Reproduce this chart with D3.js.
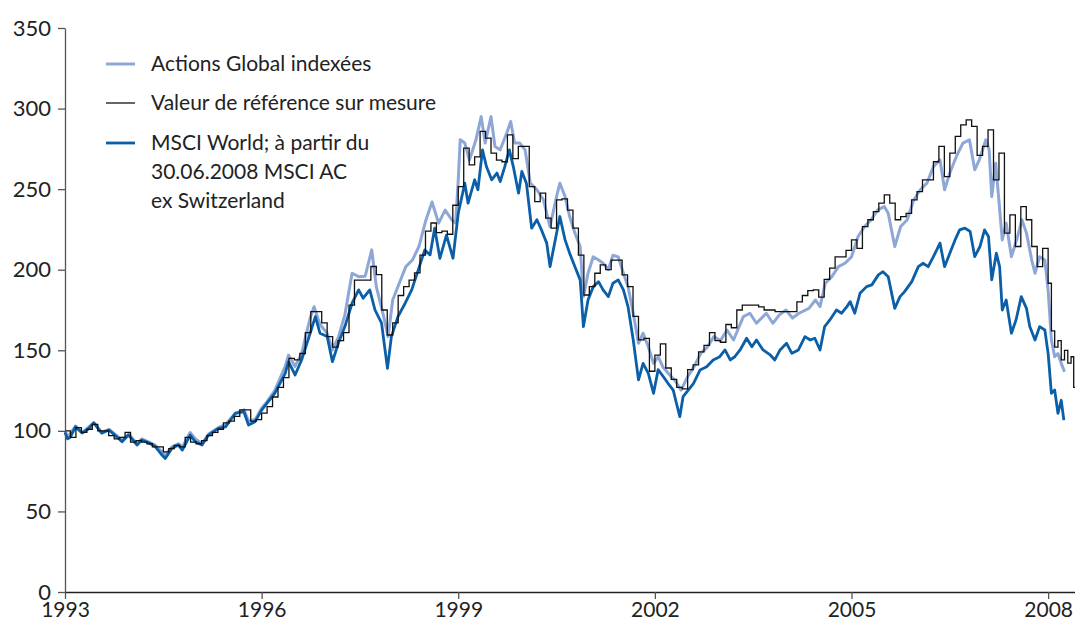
<!DOCTYPE html>
<html>
<head>
<meta charset="utf-8">
<script src="https://cdn.jsdelivr.net/npm/d3@7"></script>
<style>
  body { margin: 0; background: #fff; }
  text { font-family: Lato, "Open Sans", sans-serif; fill: #222; }
</style>
</head>
<body>
<div id="chart"></div>
<script>
// Series names (legend)
const seriesNames = [
    ["Actions Global indexées"],
    ["Valeur de référence sur mesure"],
    ["MSCI World; à partir du", "30.06.2008 MSCI AC", "ex Switzerland"]
];

// Axis ticks
const xTicks = [1993, 1996, 1999, 2002, 2005, 2008];
const yTicks = [0, 50, 100, 150, 200, 250, 300, 350];

// Actions Global indexées (light blue) - dates as year fractions
const fundDates = [1993.00, 1993.04, 1993.16, 1993.26, 1993.44, 1993.56, 1993.67, 1993.79, 1993.87, 1993.97,
    1994.10, 1994.17, 1994.28, 1994.38, 1994.48, 1994.53, 1994.63, 1994.73, 1994.79, 1994.91, 1994.99,
    1995.09, 1995.19, 1995.34, 1995.45, 1995.60, 1995.73, 1995.80, 1995.90,
    1996.00, 1996.08, 1996.20, 1996.36, 1996.41, 1996.51, 1996.61, 1996.74, 1996.80, 1996.89,
    1997.00, 1997.08, 1997.17, 1997.27, 1997.38, 1997.48, 1997.58, 1997.68, 1997.75, 1997.85, 1997.93,
    1998.00, 1998.10, 1998.20, 1998.30, 1998.40, 1998.50, 1998.60, 1998.70, 1998.80, 1998.90, 1998.96,
    1999.00, 1999.03, 1999.10, 1999.17, 1999.27, 1999.35, 1999.41, 1999.50, 1999.56, 1999.64, 1999.74, 1999.80, 1999.86, 1999.94,
    2000.02, 2000.10, 2000.20, 2000.30, 2000.40, 2000.50, 2000.55, 2000.63, 2000.70, 2000.78, 2000.86, 2000.91, 2000.98,
    2001.06, 2001.14, 2001.21, 2001.29, 2001.36, 2001.44, 2001.52, 2001.59, 2001.67, 2001.75, 2001.82, 2001.90, 2001.98,
    2002.05, 2002.12, 2002.22, 2002.30, 2002.40, 2002.50, 2002.60, 2002.70, 2002.80, 2002.90,
    2003.00, 2003.10, 2003.20, 2003.35, 2003.45, 2003.55, 2003.70, 2003.80, 2003.90,
    2004.00, 2004.10, 2004.20, 2004.35, 2004.45, 2004.52, 2004.60, 2004.70, 2004.80, 2004.90,
    2005.00, 2005.10, 2005.20, 2005.30, 2005.40, 2005.50, 2005.56, 2005.66, 2005.75, 2005.85, 2005.95,
    2006.05, 2006.15, 2006.25, 2006.35, 2006.42, 2006.50, 2006.60, 2006.70, 2006.80, 2006.88, 2006.95,
    2007.05, 2007.10, 2007.14, 2007.20, 2007.30, 2007.36, 2007.44, 2007.52, 2007.60, 2007.67, 2007.75, 2007.80, 2007.87, 2007.95,
    2008.00, 2008.05, 2008.10, 2008.15, 2008.20, 2008.25];
const fundValues = [100, 96, 103, 99, 105, 99, 101, 97, 94, 98,
    92, 95, 93, 91, 87, 85, 90, 92, 90, 99, 95,
    92, 98, 102, 104, 111, 113, 106, 107,
    114, 118, 125, 140, 147, 140, 148, 170, 177, 166,
    160.6, 150.2, 158, 172, 197.8, 195.7, 196, 212.3, 189.5, 173, 158.5,
    181.2, 191.6, 201.9, 206, 214.4, 229.9, 242, 228.9, 237, 231, 229,
    255.8, 280.6, 278.6, 268, 280.6, 295, 278.6, 295, 276.5, 274.4, 284.8, 292, 278.6, 278.6,
    274.4, 253.7, 249.6, 243.4, 226.8, 245.4, 253.7, 245.4, 233, 222.7, 214.4, 183.3, 197.8,
    208, 206, 204, 200, 209, 208, 197.8, 189.5, 173, 154.3, 160.6, 152.2, 141.9,
    146, 139.8, 135, 131.6, 125.3, 133.6, 140, 148.1, 152, 158.5,
    156, 162.6, 156.4, 170.9, 173, 166.8, 173, 166.8, 172,
    175, 170, 173, 176, 181.2, 177.1, 191.6, 195.7, 201.9, 204,
    208, 220.6, 226.8, 231, 237.1, 239.2, 235, 214.4, 226.8, 231, 243.4,
    249.6, 253.7, 264, 268.2, 249.6, 260, 270.3, 278.6, 280.6, 262, 268.2,
    280.6, 274.4, 245.4, 266.1, 218.5, 228.9, 208.1, 218.5, 231, 222.7, 206, 197.8, 208.1, 206,
    187.5, 156.4, 146, 148, 141.9, 136.7];

// MSCI World (dark blue)
const msciDates = [1993.00, 1993.04, 1993.08, 1993.16, 1993.26, 1993.35, 1993.44, 1993.56, 1993.67, 1993.79, 1993.87, 1993.97,
    1994.10, 1994.17, 1994.28, 1994.38, 1994.48, 1994.53, 1994.63, 1994.73, 1994.79, 1994.91, 1994.99,
    1995.09, 1995.19, 1995.34, 1995.45, 1995.60, 1995.73, 1995.80, 1995.90,
    1996.00, 1996.08, 1996.20, 1996.36, 1996.41, 1996.51, 1996.61, 1996.74, 1996.82, 1996.89,
    1997.00, 1997.08, 1997.17, 1997.27, 1997.38, 1997.48, 1997.55, 1997.65, 1997.73, 1997.83, 1997.92, 1997.98,
    1998.08, 1998.19, 1998.29, 1998.39, 1998.49, 1998.57, 1998.64, 1998.72, 1998.82, 1998.92,
    1999.00, 1999.10, 1999.15, 1999.25, 1999.30, 1999.37, 1999.43, 1999.51, 1999.59, 1999.64, 1999.71, 1999.78, 1999.84, 1999.92, 1999.97,
    2000.04, 2000.12, 2000.20, 2000.27, 2000.35, 2000.40, 2000.48, 2000.55, 2000.63, 2000.70, 2000.78, 2000.86, 2000.91, 2000.98,
    2001.06, 2001.14, 2001.21, 2001.29, 2001.36, 2001.44, 2001.52, 2001.59, 2001.67, 2001.75, 2001.82, 2001.90, 2001.98,
    2002.05, 2002.13, 2002.20, 2002.28, 2002.33, 2002.38, 2002.43, 2002.51, 2002.59, 2002.69, 2002.79, 2002.89, 2002.99,
    2003.07, 2003.15, 2003.22, 2003.30, 2003.40, 2003.48, 2003.55, 2003.65, 2003.76, 2003.83, 2003.91,
    2004.01, 2004.09, 2004.19, 2004.29, 2004.37, 2004.44, 2004.52, 2004.59, 2004.67, 2004.77, 2004.85, 2004.93, 2004.98,
    2005.05, 2005.13, 2005.23, 2005.31, 2005.41, 2005.48, 2005.56, 2005.66, 2005.74, 2005.81, 2005.92,
    2006.02, 2006.09, 2006.17, 2006.25, 2006.35, 2006.42, 2006.50, 2006.58, 2006.65, 2006.73, 2006.81, 2006.88, 2006.96,
    2007.03, 2007.09, 2007.14, 2007.21, 2007.26, 2007.30, 2007.36, 2007.44, 2007.51, 2007.59, 2007.67, 2007.72, 2007.80, 2007.87, 2007.95,
    2008.00, 2008.05, 2008.10, 2008.15, 2008.20, 2008.24];
const msciValues = [99, 95, 96, 102.5, 98.6, 101, 105, 98.6, 100.5, 96.3, 93.2, 97.4,
    91.2, 94.3, 92.6, 90.1, 85, 82.9, 89.1, 91.2, 88.1, 97.4, 93.2,
    91.2, 97.4, 101.5, 102.5, 110.9, 111.9, 103.6, 105.7,
    112.9, 117, 123.3, 135.7, 142.9, 134.7, 144, 160.6, 170.9, 160.6,
    158.5, 142.9, 154.3, 164.7, 179.2, 187.5, 182.3, 187.5, 175, 166.8, 138.8, 158.5,
    170.9, 179.2, 187.5, 199.9, 212.3, 209.2, 225.8, 207.1, 221.4, 207.1,
    235, 253.7, 241.3, 255.8, 249.6, 274.4, 264, 255.8, 260, 254.7, 264, 274.4, 264, 247.5, 261,
    253.7, 225.8, 231, 224.7, 216.5, 201.9, 218.5, 233, 218.5, 210.2, 201.9, 193.7, 164.7, 181.2,
    189.5, 192.6, 187.5, 183.3, 191.6, 193.7, 187.5, 177.1, 156.4, 131.6, 141.9, 135.7, 123.3,
    138, 133.6, 129.5, 125.3, 117, 108.8, 121.2, 125.3, 129.5, 137.8, 139.8, 144, 146,
    150.2, 144, 146, 150.2, 157.5, 152.2, 156.4, 150.2, 147.1, 144, 150.2,
    154.3, 148.1, 150.2, 158.5, 156.4, 157.5, 150.2, 164.7, 168.8, 175, 173, 177.1, 180.2,
    173, 185.4, 189.5, 190.6, 196.8, 198.8, 195.7, 176, 183.3, 186.4, 192.6,
    201.9, 204, 201.9, 208.1, 216.5, 201.9, 210.2, 218.5, 224.7, 225.8, 223.7, 208.1, 214.4,
    224.7, 220.6, 193.7, 210.2, 201.9, 175, 181.2, 160.6, 168.8, 183.3, 176, 164.7, 156.4, 164.7, 162.6,
    148.1, 123.3, 125.3, 110.9, 119, 106.7];

// Valeur de référence sur mesure (black) - monthly values Jan 1993 .. Dec 2007
const benchMonthly = [
    100, 96, 102, 99, 101, 104, 100, 100, 97, 95, 96, 99,
    93, 94, 93, 92, 90, 90, 87, 89, 91, 90, 96, 93,
    92, 94, 97, 99, 101, 105, 106, 109, 113, 113, 106, 107,
    111, 115, 121, 127, 133, 145, 144, 148, 161, 174, 174, 167,
    158.5, 152, 156, 161, 178, 193.5, 193.5, 193.5, 202, 197, 175, 159.5,
    167, 184, 189.5, 193.5, 198, 209, 224, 229, 223, 224, 222, 240,
    251.6, 275.5, 265, 270, 285.8, 281.7, 272.4, 268, 267, 283.7, 269, 276.5,
    276.5, 251.6, 242.3, 247.5, 232, 225.8, 243.4, 244, 237, 225.8, 209, 184.3,
    189.5, 197.8, 203, 200, 206, 206, 196.8, 189.5, 171, 156.4, 157.4, 137,
    147, 154, 139, 132, 127, 126, 138, 141, 149, 153, 161, 156,
    155, 166, 164, 175, 178, 178, 178, 177, 175, 175, 174, 174,
    174, 174, 180, 184, 187, 187.5, 183, 194, 201, 208, 208, 212,
    218.5, 213.3, 226.8, 231, 236, 241.3, 246.4, 241.3, 231, 233, 235, 243.4,
    248.5, 255.8, 255.8, 267, 276.5, 257.8, 272.4, 282.7, 289.9, 293, 288.9, 271,
    276.5, 286.8, 255.8, 272.4, 222.7, 234, 214.4, 239.2, 231, 214.4, 201.9, 213.3
];
// 2008 tail (finer)
const benchTailDates = [2008.00, 2008.05, 2008.10, 2008.15, 2008.20, 2008.25, 2008.30, 2008.35, 2008.39, 2008.41];
const benchTailValues = [191.6, 162, 152, 156, 144, 150, 142, 146, 127, 127];

const width = 1075, height = 623;
const margin = { top: 28, right: 0, bottom: 31, left: 65 };

const svg = d3.select("#chart")
    .append("svg")
    .attr("width", width)
    .attr("height", height);

const x = d3.scaleLinear()
    .domain([1993, 2008.41])
    .range([margin.left, width - margin.right]);

const y = d3.scaleLinear()
    .domain([0, 350])
    .range([height - margin.bottom, margin.top]);

// Build point lists
const fund = fundDates.map((t, i) => ({ t: t, v: fundValues[i] }));
const msci = msciDates.map((t, i) => ({ t: t, v: msciValues[i] }));
const bench = benchMonthly.map((v, i) => ({ t: 1993 + i / 12, v: v }))
    .concat(benchTailDates.map((t, i) => ({ t: t, v: benchTailValues[i] })));

const line = d3.line()
    .x(d => x(d.t))
    .y(d => y(d.v));

const stepLine = d3.line()
    .curve(d3.curveStepAfter)
    .x(d => x(d.t))
    .y(d => y(d.v));

const colors = ["#8ea7d6", "#111111", "#0a5fa8"];

svg.append("path")
    .datum(fund)
    .attr("fill", "none")
    .attr("stroke", colors[0])
    .attr("stroke-width", 3)
    .attr("stroke-linejoin", "round")
    .attr("d", line);

svg.append("path")
    .datum(msci)
    .attr("fill", "none")
    .attr("stroke", colors[2])
    .attr("stroke-width", 2.8)
    .attr("stroke-linejoin", "round")
    .attr("d", line);

svg.append("path")
    .datum(bench)
    .attr("fill", "none")
    .attr("stroke", colors[1])
    .attr("stroke-width", 1.3)
    .attr("d", stepLine);

// Y axis
const yAxis = svg.append("g")
    .attr("transform", "translate(" + margin.left + ",0)")
    .call(d3.axisLeft(y).tickValues(yTicks).tickSize(7).tickPadding(7).tickSizeOuter(0));
yAxis.select(".domain").attr("stroke", "#555").attr("stroke-width", 1.3);
yAxis.selectAll(".tick line").attr("stroke", "#555").attr("stroke-width", 1.3);
yAxis.selectAll(".tick text").style("font-size", "22px").attr("fill", "#222");

// X axis
const xAxis = svg.append("g")
    .attr("transform", "translate(0," + (height - margin.bottom) + ")")
    .call(d3.axisBottom(x).tickValues(xTicks).tickFormat(d3.format("d")).tickSize(7).tickPadding(3).tickSizeOuter(0));
xAxis.select(".domain").attr("stroke", "#222").attr("stroke-width", 1.3);
xAxis.selectAll(".tick line").attr("stroke", "#555").attr("stroke-width", 1.3);
xAxis.selectAll(".tick text").style("font-size", "21px").attr("fill", "#222");

// Legend
const legendRows = [64, 103, 143];
const legendWidths = [3, 1.3, 2.8];
const legend = svg.append("g");
seriesNames.forEach((lines, i) => {
    legend.append("line")
        .attr("x1", 106).attr("x2", 135)
        .attr("y1", legendRows[i]).attr("y2", legendRows[i])
        .attr("stroke", colors[i])
        .attr("stroke-width", legendWidths[i]);
    const t = legend.append("text")
        .attr("x", 151)
        .attr("y", legendRows[i] + 7)
        .style("font-size", "21px");
    lines.forEach((s, j) => {
        t.append("tspan")
            .attr("x", 151)
            .attr("dy", j == 0 ? 0 : 29)
            .text(s);
    });
});
</script>
</body>
</html>
